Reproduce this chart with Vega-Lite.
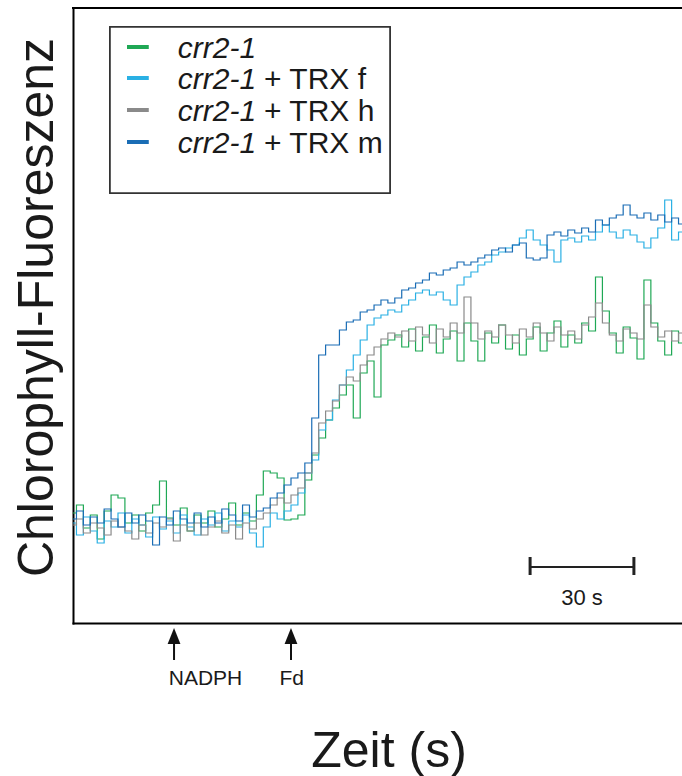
{
"$schema": "https://vega.github.io/schema/vega-lite/v6.json",
"width": 609, "height": 615,
"autosize": {"type": "none"},
"padding": {"left": 73, "top": 8, "right": 0, "bottom": 153},
"background": "white",
"config": {
"view": {"stroke": null},
"font": "Liberation Sans",
"axis": {"domain": true, "domainColor": "#000000", "domainWidth": 2, "domainCap": "square", "ticks": false, "labels": false, "grid": false,
"titleFont": "Liberation Sans", "titleFontWeight": "normal", "titleColor": "#1a1a1a"}
},
"datasets": {
"traces": [
{"s":"crr2-1","t":0,"v":110},{"s":"crr2-1","t":2,"v":118},{"s":"crr2-1","t":4,"v":95},{"s":"crr2-1","t":6,"v":108},{"s":"crr2-1","t":8,"v":84},{"s":"crr2-1","t":10,"v":112},{"s":"crr2-1","t":12,"v":128},{"s":"crr2-1","t":14,"v":125},{"s":"crr2-1","t":16,"v":100},{"s":"crr2-1","t":18,"v":108},{"s":"crr2-1","t":20,"v":92},{"s":"crr2-1","t":22,"v":110},{"s":"crr2-1","t":24,"v":118},{"s":"crr2-1","t":26,"v":142},{"s":"crr2-1","t":28,"v":105},{"s":"crr2-1","t":30,"v":98},{"s":"crr2-1","t":32,"v":115},{"s":"crr2-1","t":34,"v":92},{"s":"crr2-1","t":36,"v":108},{"s":"crr2-1","t":38,"v":100},{"s":"crr2-1","t":40,"v":112},{"s":"crr2-1","t":42,"v":96},{"s":"crr2-1","t":44,"v":104},{"s":"crr2-1","t":46,"v":120},{"s":"crr2-1","t":48,"v":98},{"s":"crr2-1","t":50,"v":110},{"s":"crr2-1","t":52,"v":102},{"s":"crr2-1","t":54,"v":128},{"s":"crr2-1","t":56,"v":152},{"s":"crr2-1","t":58,"v":150},{"s":"crr2-1","t":60,"v":145},{"s":"crr2-1","t":62,"v":103},{"s":"crr2-1","t":64,"v":104},{"s":"crr2-1","t":66,"v":108},{"s":"crr2-1","t":68,"v":143},{"s":"crr2-1","t":70,"v":168},{"s":"crr2-1","t":72,"v":185},{"s":"crr2-1","t":74,"v":203},{"s":"crr2-1","t":76,"v":215},{"s":"crr2-1","t":78,"v":228},{"s":"crr2-1","t":80,"v":238},{"s":"crr2-1","t":82,"v":205},{"s":"crr2-1","t":84,"v":250},{"s":"crr2-1","t":86,"v":262},{"s":"crr2-1","t":88,"v":226},{"s":"crr2-1","t":90,"v":278},{"s":"crr2-1","t":92,"v":283},{"s":"crr2-1","t":94,"v":288},{"s":"crr2-1","t":96,"v":276},{"s":"crr2-1","t":98,"v":294},{"s":"crr2-1","t":100,"v":272},{"s":"crr2-1","t":102,"v":286},{"s":"crr2-1","t":104,"v":298},{"s":"crr2-1","t":106,"v":270},{"s":"crr2-1","t":108,"v":284},{"s":"crr2-1","t":110,"v":292},{"s":"crr2-1","t":112,"v":262},{"s":"crr2-1","t":114,"v":300},{"s":"crr2-1","t":116,"v":282},{"s":"crr2-1","t":118,"v":262},{"s":"crr2-1","t":120,"v":290},{"s":"crr2-1","t":122,"v":280},{"s":"crr2-1","t":124,"v":298},{"s":"crr2-1","t":126,"v":274},{"s":"crr2-1","t":128,"v":288},{"s":"crr2-1","t":130,"v":268},{"s":"crr2-1","t":132,"v":284},{"s":"crr2-1","t":134,"v":296},{"s":"crr2-1","t":136,"v":272},{"s":"crr2-1","t":138,"v":290},{"s":"crr2-1","t":140,"v":302},{"s":"crr2-1","t":142,"v":276},{"s":"crr2-1","t":144,"v":288},{"s":"crr2-1","t":146,"v":280},{"s":"crr2-1","t":148,"v":300},{"s":"crr2-1","t":150,"v":292},{"s":"crr2-1","t":152,"v":346},{"s":"crr2-1","t":154,"v":312},{"s":"crr2-1","t":156,"v":290},{"s":"crr2-1","t":158,"v":270},{"s":"crr2-1","t":160,"v":296},{"s":"crr2-1","t":162,"v":285},{"s":"crr2-1","t":164,"v":264},{"s":"crr2-1","t":166,"v":343},{"s":"crr2-1","t":168,"v":300},{"s":"crr2-1","t":170,"v":282},{"s":"crr2-1","t":172,"v":268},{"s":"crr2-1","t":174,"v":292},{"s":"crr2-1","t":176,"v":280},
{"s":"crr2-1 + TRX f","t":0,"v":100},{"s":"crr2-1 + TRX f","t":2,"v":88},{"s":"crr2-1 + TRX f","t":4,"v":106},{"s":"crr2-1 + TRX f","t":6,"v":92},{"s":"crr2-1 + TRX f","t":8,"v":80},{"s":"crr2-1 + TRX f","t":10,"v":102},{"s":"crr2-1 + TRX f","t":12,"v":96},{"s":"crr2-1 + TRX f","t":14,"v":110},{"s":"crr2-1 + TRX f","t":16,"v":90},{"s":"crr2-1 + TRX f","t":18,"v":104},{"s":"crr2-1 + TRX f","t":20,"v":98},{"s":"crr2-1 + TRX f","t":22,"v":86},{"s":"crr2-1 + TRX f","t":24,"v":106},{"s":"crr2-1 + TRX f","t":26,"v":94},{"s":"crr2-1 + TRX f","t":28,"v":102},{"s":"crr2-1 + TRX f","t":30,"v":90},{"s":"crr2-1 + TRX f","t":32,"v":108},{"s":"crr2-1 + TRX f","t":34,"v":96},{"s":"crr2-1 + TRX f","t":36,"v":88},{"s":"crr2-1 + TRX f","t":38,"v":104},{"s":"crr2-1 + TRX f","t":40,"v":98},{"s":"crr2-1 + TRX f","t":42,"v":110},{"s":"crr2-1 + TRX f","t":44,"v":92},{"s":"crr2-1 + TRX f","t":46,"v":102},{"s":"crr2-1 + TRX f","t":48,"v":96},{"s":"crr2-1 + TRX f","t":50,"v":108},{"s":"crr2-1 + TRX f","t":52,"v":90},{"s":"crr2-1 + TRX f","t":54,"v":76},{"s":"crr2-1 + TRX f","t":56,"v":96},{"s":"crr2-1 + TRX f","t":58,"v":110},{"s":"crr2-1 + TRX f","t":60,"v":104},{"s":"crr2-1 + TRX f","t":62,"v":112},{"s":"crr2-1 + TRX f","t":64,"v":118},{"s":"crr2-1 + TRX f","t":66,"v":130},{"s":"crr2-1 + TRX f","t":68,"v":150},{"s":"crr2-1 + TRX f","t":70,"v":163},{"s":"crr2-1 + TRX f","t":72,"v":193},{"s":"crr2-1 + TRX f","t":74,"v":203},{"s":"crr2-1 + TRX f","t":76,"v":223},{"s":"crr2-1 + TRX f","t":78,"v":238},{"s":"crr2-1 + TRX f","t":80,"v":253},{"s":"crr2-1 + TRX f","t":82,"v":268},{"s":"crr2-1 + TRX f","t":84,"v":283},{"s":"crr2-1 + TRX f","t":86,"v":298},{"s":"crr2-1 + TRX f","t":88,"v":305},{"s":"crr2-1 + TRX f","t":90,"v":308},{"s":"crr2-1 + TRX f","t":92,"v":313},{"s":"crr2-1 + TRX f","t":94,"v":311},{"s":"crr2-1 + TRX f","t":96,"v":318},{"s":"crr2-1 + TRX f","t":98,"v":323},{"s":"crr2-1 + TRX f","t":100,"v":330},{"s":"crr2-1 + TRX f","t":102,"v":333},{"s":"crr2-1 + TRX f","t":104,"v":328},{"s":"crr2-1 + TRX f","t":106,"v":331},{"s":"crr2-1 + TRX f","t":108,"v":323},{"s":"crr2-1 + TRX f","t":110,"v":318},{"s":"crr2-1 + TRX f","t":112,"v":338},{"s":"crr2-1 + TRX f","t":114,"v":346},{"s":"crr2-1 + TRX f","t":116,"v":351},{"s":"crr2-1 + TRX f","t":118,"v":358},{"s":"crr2-1 + TRX f","t":120,"v":361},{"s":"crr2-1 + TRX f","t":122,"v":368},{"s":"crr2-1 + TRX f","t":124,"v":371},{"s":"crr2-1 + TRX f","t":126,"v":375},{"s":"crr2-1 + TRX f","t":128,"v":378},{"s":"crr2-1 + TRX f","t":130,"v":385},{"s":"crr2-1 + TRX f","t":132,"v":393},{"s":"crr2-1 + TRX f","t":134,"v":383},{"s":"crr2-1 + TRX f","t":136,"v":378},{"s":"crr2-1 + TRX f","t":138,"v":373},{"s":"crr2-1 + TRX f","t":140,"v":361},{"s":"crr2-1 + TRX f","t":142,"v":383},{"s":"crr2-1 + TRX f","t":144,"v":385},{"s":"crr2-1 + TRX f","t":146,"v":381},{"s":"crr2-1 + TRX f","t":148,"v":387},{"s":"crr2-1 + TRX f","t":150,"v":383},{"s":"crr2-1 + TRX f","t":152,"v":391},{"s":"crr2-1 + TRX f","t":154,"v":398},{"s":"crr2-1 + TRX f","t":156,"v":391},{"s":"crr2-1 + TRX f","t":158,"v":385},{"s":"crr2-1 + TRX f","t":160,"v":393},{"s":"crr2-1 + TRX f","t":162,"v":388},{"s":"crr2-1 + TRX f","t":164,"v":381},{"s":"crr2-1 + TRX f","t":166,"v":375},{"s":"crr2-1 + TRX f","t":168,"v":385},{"s":"crr2-1 + TRX f","t":170,"v":395},{"s":"crr2-1 + TRX f","t":172,"v":423},{"s":"crr2-1 + TRX f","t":174,"v":383},{"s":"crr2-1 + TRX f","t":176,"v":391},
{"s":"crr2-1 + TRX h","t":0,"v":98},{"s":"crr2-1 + TRX h","t":2,"v":104},{"s":"crr2-1 + TRX h","t":4,"v":90},{"s":"crr2-1 + TRX h","t":6,"v":100},{"s":"crr2-1 + TRX h","t":8,"v":95},{"s":"crr2-1 + TRX h","t":10,"v":88},{"s":"crr2-1 + TRX h","t":12,"v":102},{"s":"crr2-1 + TRX h","t":14,"v":96},{"s":"crr2-1 + TRX h","t":16,"v":92},{"s":"crr2-1 + TRX h","t":18,"v":84},{"s":"crr2-1 + TRX h","t":20,"v":98},{"s":"crr2-1 + TRX h","t":22,"v":90},{"s":"crr2-1 + TRX h","t":24,"v":100},{"s":"crr2-1 + TRX h","t":26,"v":96},{"s":"crr2-1 + TRX h","t":28,"v":104},{"s":"crr2-1 + TRX h","t":30,"v":82},{"s":"crr2-1 + TRX h","t":32,"v":98},{"s":"crr2-1 + TRX h","t":34,"v":92},{"s":"crr2-1 + TRX h","t":36,"v":100},{"s":"crr2-1 + TRX h","t":38,"v":88},{"s":"crr2-1 + TRX h","t":40,"v":96},{"s":"crr2-1 + TRX h","t":42,"v":102},{"s":"crr2-1 + TRX h","t":44,"v":90},{"s":"crr2-1 + TRX h","t":46,"v":98},{"s":"crr2-1 + TRX h","t":48,"v":84},{"s":"crr2-1 + TRX h","t":50,"v":100},{"s":"crr2-1 + TRX h","t":52,"v":94},{"s":"crr2-1 + TRX h","t":54,"v":104},{"s":"crr2-1 + TRX h","t":56,"v":110},{"s":"crr2-1 + TRX h","t":58,"v":118},{"s":"crr2-1 + TRX h","t":60,"v":125},{"s":"crr2-1 + TRX h","t":62,"v":120},{"s":"crr2-1 + TRX h","t":64,"v":128},{"s":"crr2-1 + TRX h","t":66,"v":135},{"s":"crr2-1 + TRX h","t":68,"v":150},{"s":"crr2-1 + TRX h","t":70,"v":170},{"s":"crr2-1 + TRX h","t":72,"v":200},{"s":"crr2-1 + TRX h","t":74,"v":212},{"s":"crr2-1 + TRX h","t":76,"v":222},{"s":"crr2-1 + TRX h","t":78,"v":238},{"s":"crr2-1 + TRX h","t":80,"v":246},{"s":"crr2-1 + TRX h","t":82,"v":242},{"s":"crr2-1 + TRX h","t":84,"v":258},{"s":"crr2-1 + TRX h","t":86,"v":268},{"s":"crr2-1 + TRX h","t":88,"v":276},{"s":"crr2-1 + TRX h","t":90,"v":284},{"s":"crr2-1 + TRX h","t":92,"v":290},{"s":"crr2-1 + TRX h","t":94,"v":286},{"s":"crr2-1 + TRX h","t":96,"v":292},{"s":"crr2-1 + TRX h","t":98,"v":282},{"s":"crr2-1 + TRX h","t":100,"v":296},{"s":"crr2-1 + TRX h","t":102,"v":288},{"s":"crr2-1 + TRX h","t":104,"v":280},{"s":"crr2-1 + TRX h","t":106,"v":294},{"s":"crr2-1 + TRX h","t":108,"v":286},{"s":"crr2-1 + TRX h","t":110,"v":300},{"s":"crr2-1 + TRX h","t":112,"v":290},{"s":"crr2-1 + TRX h","t":114,"v":326},{"s":"crr2-1 + TRX h","t":116,"v":300},{"s":"crr2-1 + TRX h","t":118,"v":284},{"s":"crr2-1 + TRX h","t":120,"v":292},{"s":"crr2-1 + TRX h","t":122,"v":286},{"s":"crr2-1 + TRX h","t":124,"v":298},{"s":"crr2-1 + TRX h","t":126,"v":288},{"s":"crr2-1 + TRX h","t":128,"v":280},{"s":"crr2-1 + TRX h","t":130,"v":294},{"s":"crr2-1 + TRX h","t":132,"v":286},{"s":"crr2-1 + TRX h","t":134,"v":300},{"s":"crr2-1 + TRX h","t":136,"v":290},{"s":"crr2-1 + TRX h","t":138,"v":282},{"s":"crr2-1 + TRX h","t":140,"v":296},{"s":"crr2-1 + TRX h","t":142,"v":288},{"s":"crr2-1 + TRX h","t":144,"v":292},{"s":"crr2-1 + TRX h","t":146,"v":284},{"s":"crr2-1 + TRX h","t":148,"v":298},{"s":"crr2-1 + TRX h","t":150,"v":306},{"s":"crr2-1 + TRX h","t":152,"v":320},{"s":"crr2-1 + TRX h","t":154,"v":300},{"s":"crr2-1 + TRX h","t":156,"v":288},{"s":"crr2-1 + TRX h","t":158,"v":282},{"s":"crr2-1 + TRX h","t":160,"v":294},{"s":"crr2-1 + TRX h","t":162,"v":290},{"s":"crr2-1 + TRX h","t":164,"v":284},{"s":"crr2-1 + TRX h","t":166,"v":318},{"s":"crr2-1 + TRX h","t":168,"v":296},{"s":"crr2-1 + TRX h","t":170,"v":286},{"s":"crr2-1 + TRX h","t":172,"v":292},{"s":"crr2-1 + TRX h","t":174,"v":282},{"s":"crr2-1 + TRX h","t":176,"v":290},
{"s":"crr2-1 + TRX m","t":0,"v":104},{"s":"crr2-1 + TRX m","t":2,"v":112},{"s":"crr2-1 + TRX m","t":4,"v":98},{"s":"crr2-1 + TRX m","t":6,"v":106},{"s":"crr2-1 + TRX m","t":8,"v":100},{"s":"crr2-1 + TRX m","t":10,"v":114},{"s":"crr2-1 + TRX m","t":12,"v":104},{"s":"crr2-1 + TRX m","t":14,"v":96},{"s":"crr2-1 + TRX m","t":16,"v":110},{"s":"crr2-1 + TRX m","t":18,"v":100},{"s":"crr2-1 + TRX m","t":20,"v":108},{"s":"crr2-1 + TRX m","t":22,"v":102},{"s":"crr2-1 + TRX m","t":24,"v":78},{"s":"crr2-1 + TRX m","t":26,"v":106},{"s":"crr2-1 + TRX m","t":28,"v":98},{"s":"crr2-1 + TRX m","t":30,"v":112},{"s":"crr2-1 + TRX m","t":32,"v":104},{"s":"crr2-1 + TRX m","t":34,"v":100},{"s":"crr2-1 + TRX m","t":36,"v":110},{"s":"crr2-1 + TRX m","t":38,"v":96},{"s":"crr2-1 + TRX m","t":40,"v":106},{"s":"crr2-1 + TRX m","t":42,"v":100},{"s":"crr2-1 + TRX m","t":44,"v":114},{"s":"crr2-1 + TRX m","t":46,"v":108},{"s":"crr2-1 + TRX m","t":48,"v":102},{"s":"crr2-1 + TRX m","t":50,"v":118},{"s":"crr2-1 + TRX m","t":52,"v":106},{"s":"crr2-1 + TRX m","t":54,"v":112},{"s":"crr2-1 + TRX m","t":56,"v":115},{"s":"crr2-1 + TRX m","t":58,"v":125},{"s":"crr2-1 + TRX m","t":60,"v":130},{"s":"crr2-1 + TRX m","t":62,"v":138},{"s":"crr2-1 + TRX m","t":64,"v":145},{"s":"crr2-1 + TRX m","t":66,"v":150},{"s":"crr2-1 + TRX m","t":68,"v":160},{"s":"crr2-1 + TRX m","t":70,"v":205},{"s":"crr2-1 + TRX m","t":72,"v":268},{"s":"crr2-1 + TRX m","t":74,"v":278},{"s":"crr2-1 + TRX m","t":76,"v":278},{"s":"crr2-1 + TRX m","t":78,"v":293},{"s":"crr2-1 + TRX m","t":80,"v":301},{"s":"crr2-1 + TRX m","t":82,"v":303},{"s":"crr2-1 + TRX m","t":84,"v":311},{"s":"crr2-1 + TRX m","t":86,"v":313},{"s":"crr2-1 + TRX m","t":88,"v":318},{"s":"crr2-1 + TRX m","t":90,"v":323},{"s":"crr2-1 + TRX m","t":92,"v":320},{"s":"crr2-1 + TRX m","t":94,"v":325},{"s":"crr2-1 + TRX m","t":96,"v":333},{"s":"crr2-1 + TRX m","t":98,"v":335},{"s":"crr2-1 + TRX m","t":100,"v":340},{"s":"crr2-1 + TRX m","t":102,"v":343},{"s":"crr2-1 + TRX m","t":104,"v":350},{"s":"crr2-1 + TRX m","t":106,"v":348},{"s":"crr2-1 + TRX m","t":108,"v":353},{"s":"crr2-1 + TRX m","t":110,"v":355},{"s":"crr2-1 + TRX m","t":112,"v":361},{"s":"crr2-1 + TRX m","t":114,"v":358},{"s":"crr2-1 + TRX m","t":116,"v":361},{"s":"crr2-1 + TRX m","t":118,"v":365},{"s":"crr2-1 + TRX m","t":120,"v":368},{"s":"crr2-1 + TRX m","t":122,"v":373},{"s":"crr2-1 + TRX m","t":124,"v":375},{"s":"crr2-1 + TRX m","t":126,"v":371},{"s":"crr2-1 + TRX m","t":128,"v":378},{"s":"crr2-1 + TRX m","t":130,"v":380},{"s":"crr2-1 + TRX m","t":132,"v":365},{"s":"crr2-1 + TRX m","t":134,"v":363},{"s":"crr2-1 + TRX m","t":136,"v":365},{"s":"crr2-1 + TRX m","t":138,"v":388},{"s":"crr2-1 + TRX m","t":140,"v":391},{"s":"crr2-1 + TRX m","t":142,"v":387},{"s":"crr2-1 + TRX m","t":144,"v":393},{"s":"crr2-1 + TRX m","t":146,"v":390},{"s":"crr2-1 + TRX m","t":148,"v":395},{"s":"crr2-1 + TRX m","t":150,"v":391},{"s":"crr2-1 + TRX m","t":152,"v":403},{"s":"crr2-1 + TRX m","t":154,"v":398},{"s":"crr2-1 + TRX m","t":156,"v":405},{"s":"crr2-1 + TRX m","t":158,"v":408},{"s":"crr2-1 + TRX m","t":160,"v":418},{"s":"crr2-1 + TRX m","t":162,"v":408},{"s":"crr2-1 + TRX m","t":164,"v":405},{"s":"crr2-1 + TRX m","t":166,"v":410},{"s":"crr2-1 + TRX m","t":168,"v":403},{"s":"crr2-1 + TRX m","t":170,"v":408},{"s":"crr2-1 + TRX m","t":172,"v":401},{"s":"crr2-1 + TRX m","t":174,"v":405},{"s":"crr2-1 + TRX m","t":176,"v":399}
],
"legend": [
{"s":"crr2-1","it":"crr2-1","rest":"","v":565},
{"s":"crr2-1 + TRX f","it":"crr2-1","rest":"+ TRX f","v":534},
{"s":"crr2-1 + TRX h","it":"crr2-1","rest":"+ TRX h","v":502},
{"s":"crr2-1 + TRX m","it":"crr2-1","rest":"+ TRX m","v":470}
],
"events": [
{"event":"NADPH","t":29.2,"tl":38.3},
{"event":"Fd","t":63.0,"tl":63.2}
],
"scalebar": [
{"start":132.1,"end":162.1,"label":"30 s"}
],
"frame": [{"top":615}]
},
"layer": [
{
"data": {"name": "traces"},
"mark": {"type": "line", "interpolate": "step", "strokeWidth": 1.2, "clip": true},
"encoding": {
"x": {"field": "t", "type": "quantitative", "scale": {"domain": [0, 176], "nice": false},
"axis": {"orient": "bottom", "title": "Zeit (s)", "titleFontSize": 50,
"titleX": 315.5, "titleY": 143, "titleBaseline": "alphabetic", "titleAlign": "center", "titleAngle": 0}},
"y": {"field": "v", "type": "quantitative", "scale": {"domain": [0, 615], "nice": false},
"axis": {"orient": "left", "title": "Chlorophyll-Fluoreszenz", "titleFontSize": 50,
"titleX": -21, "titleY": 299, "titleBaseline": "alphabetic", "titleAlign": "center", "titleAngle": -90}},
"color": {"field": "s", "type": "nominal",
"scale": {"domain": ["crr2-1", "crr2-1 + TRX f", "crr2-1 + TRX h", "crr2-1 + TRX m"], "range": ["#1fa855", "#2ab0e4", "#8a8a8a", "#1a6db5"]},
"legend": null}
}
},
{
"data": {"name": "frame"},
"mark": {"type": "rule", "color": "#000000", "strokeWidth": 2, "strokeCap": "square"},
"encoding": {
"y": {"field": "top", "type": "quantitative", "scale": {"domain": [0, 615], "nice": false}}
}
},
{
"data": {"name": "legend"},
"mark": {"type": "rect", "fill": "white", "stroke": "#333333", "strokeWidth": 1.5},
"encoding": {
"x": {"datum": 10.7, "type": "quantitative", "scale": {"domain": [0, 176], "nice": false}},
"x2": {"datum": 91.6},
"y": {"datum": 596, "type": "quantitative", "scale": {"domain": [0, 615], "nice": false}},
"y2": {"datum": 430}
}
},
{
"data": {"name": "legend"},
"mark": {"type": "rule", "strokeWidth": 4, "yOffset": -11},
"encoding": {
"x": {"datum": 15.6, "type": "quantitative", "scale": {"domain": [0, 176], "nice": false}},
"x2": {"datum": 21.9},
"y": {"field": "v", "type": "quantitative", "scale": {"domain": [0, 615], "nice": false}},
"color": {"field": "s", "type": "nominal", "legend": null}
}
},
{
"data": {"name": "legend"},
"mark": {"type": "text", "align": "left", "baseline": "alphabetic", "fontSize": 30, "fontStyle": "italic", "font": "Liberation Sans", "color": "#1a1a1a"},
"encoding": {
"x": {"datum": 30.3, "type": "quantitative", "scale": {"domain": [0, 176], "nice": false}},
"y": {"field": "v", "type": "quantitative", "scale": {"domain": [0, 615], "nice": false}},
"text": {"field": "it"}
}
},
{
"data": {"name": "legend"},
"mark": {"type": "text", "align": "left", "baseline": "alphabetic", "fontSize": 30, "font": "Liberation Sans", "color": "#1a1a1a"},
"encoding": {
"x": {"datum": 55.2, "type": "quantitative", "scale": {"domain": [0, 176], "nice": false}},
"y": {"field": "v", "type": "quantitative", "scale": {"domain": [0, 615], "nice": false}},
"text": {"field": "rest"}
}
},
{
"data": {"name": "scalebar"},
"mark": {"type": "rule", "color": "#222222", "strokeWidth": 2},
"encoding": {
"x": {"field": "start", "type": "quantitative", "scale": {"domain": [0, 176], "nice": false}},
"x2": {"field": "end"},
"y": {"datum": 56, "type": "quantitative", "scale": {"domain": [0, 615], "nice": false}}
}
},
{
"data": {"name": "scalebar"},
"mark": {"type": "rule", "color": "#222222", "strokeWidth": 3},
"encoding": {
"x": {"field": "start", "type": "quantitative", "scale": {"domain": [0, 176], "nice": false}},
"y": {"datum": 48, "type": "quantitative", "scale": {"domain": [0, 615], "nice": false}},
"y2": {"datum": 66}
}
},
{
"data": {"name": "scalebar"},
"mark": {"type": "rule", "color": "#222222", "strokeWidth": 3},
"encoding": {
"x": {"field": "end", "type": "quantitative", "scale": {"domain": [0, 176], "nice": false}},
"y": {"datum": 48, "type": "quantitative", "scale": {"domain": [0, 615], "nice": false}},
"y2": {"datum": 66}
}
},
{
"data": {"name": "scalebar"},
"mark": {"type": "text", "align": "center", "baseline": "alphabetic", "fontSize": 22, "font": "Liberation Sans", "color": "#1a1a1a"},
"encoding": {
"x": {"datum": 147.1, "type": "quantitative", "scale": {"domain": [0, 176], "nice": false}},
"y": {"datum": 18, "type": "quantitative", "scale": {"domain": [0, 615], "nice": false}},
"text": {"field": "label"}
}
},
{
"data": {"name": "events"},
"mark": {"type": "rule", "color": "#111111", "strokeWidth": 2},
"encoding": {
"x": {"field": "t", "type": "quantitative", "scale": {"domain": [0, 176], "nice": false}},
"y": {"datum": -19, "type": "quantitative", "scale": {"domain": [0, 615], "nice": false}},
"y2": {"datum": -37}
}
},
{
"data": {"name": "events"},
"mark": {"type": "point", "shape": "M0,-1L0.8,1L-0.8,1Z", "filled": true, "color": "#111111", "opacity": 1, "size": 256, "strokeWidth": 0},
"encoding": {
"x": {"field": "t", "type": "quantitative", "scale": {"domain": [0, 176], "nice": false}},
"y": {"datum": -13, "type": "quantitative", "scale": {"domain": [0, 615], "nice": false}}
}
},
{
"data": {"name": "events"},
"mark": {"type": "text", "align": "center", "baseline": "alphabetic", "fontSize": 21, "font": "Liberation Sans", "color": "#1a1a1a"},
"encoding": {
"x": {"field": "tl", "type": "quantitative", "scale": {"domain": [0, 176], "nice": false}},
"y": {"datum": -62, "type": "quantitative", "scale": {"domain": [0, 615], "nice": false}},
"text": {"field": "event"}
}
}
]
}
